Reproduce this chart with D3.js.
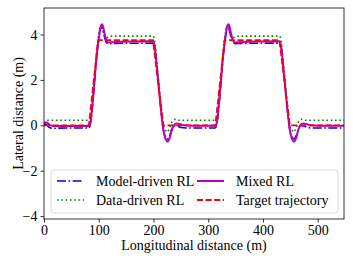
<!DOCTYPE html>
<html>
<head>
<meta charset="utf-8">
<script src="https://cdn.jsdelivr.net/npm/d3@7"></script>
<style>
  body { margin: 0; background: #fff; }
  text { font-family: "Liberation Serif", "DejaVu Serif", serif; fill: #000; }
</style>
</head>
<body>
<div class="chart"></div>
<script>
// lateral position (m) against longitudinal distance (m)
var modelDriven = [
  [0, 0.05], [5, 0.02], [10, -0.1], [16, -0.13], [40, -0.12], [82, -0.12], [85, 0.1], [88, 0.7],
  [92, 1.8], [96, 3.0], [100, 3.85], [103, 4.25], [106, 4.3], [108, 4.15], [111, 3.85], [114, 3.65],
  [118, 3.6], [130, 3.61], [199, 3.62], [202, 3.45], [206, 2.6], [210, 1.6], [214, 0.6], [218, -0.2],
  [222, -0.52], [226, -0.6], [229, -0.5], [233, -0.2], [237, -0.02], [242, -0.02], [250, -0.1],
  [260, -0.12], [313, -0.12], [316, 0.1], [319, 0.7], [323, 1.8], [327, 3.0], [331, 3.85], [334, 4.25],
  [337, 4.3], [339, 4.15], [342, 3.85], [345, 3.65], [349, 3.6], [361, 3.61], [430, 3.62], [433, 3.45],
  [437, 2.6], [441, 1.6], [445, 0.6], [449, -0.2], [453, -0.52], [457, -0.6], [460, -0.5], [464, -0.2],
  [468, -0.02], [473, -0.02], [481, -0.1], [491, -0.12], [548, -0.12]
];
var dataDriven = [
  [0, 0.1], [4, 0.2], [8, 0.22], [82, 0.22], [85, 0.35], [88, 0.9], [92, 2.0], [96, 3.2], [100, 4.0],
  [103, 4.35], [106, 4.35], [108, 4.15], [111, 3.92], [114, 3.86], [118, 3.9], [125, 3.93], [199, 3.93],
  [202, 3.75], [206, 2.8], [210, 1.8], [214, 0.8], [218, 0.0], [222, -0.22], [225, -0.3], [228, -0.2],
  [232, 0.05], [236, 0.22], [240, 0.26], [246, 0.22], [313, 0.22], [316, 0.35], [319, 0.9], [323, 2.0],
  [327, 3.2], [331, 4.0], [334, 4.35], [337, 4.35], [339, 4.15], [342, 3.92], [345, 3.86], [349, 3.9],
  [356, 3.93], [430, 3.93], [433, 3.75], [437, 2.8], [441, 1.8], [445, 0.8], [449, 0.0], [453, -0.22],
  [456, -0.3], [459, -0.2], [463, 0.05], [467, 0.22], [471, 0.26], [477, 0.22], [548, 0.22]
];
var mixed = [
  [0, 0.08], [5, 0.12], [10, 0.03], [16, -0.03], [40, -0.03], [82, -0.03], [85, 0.15], [88, 0.8],
  [92, 1.9], [96, 3.0], [100, 3.8], [103, 4.3], [106, 4.45], [108, 4.35], [111, 4.0], [114, 3.75],
  [118, 3.65], [125, 3.66], [160, 3.69], [199, 3.7], [202, 3.5], [206, 2.6], [210, 1.6], [214, 0.6],
  [218, -0.2], [222, -0.6], [226, -0.72], [229, -0.6], [233, -0.25], [237, 0.0], [242, 0.08],
  [248, 0.06], [256, 0.0], [270, -0.02], [313, -0.02], [316, 0.15], [319, 0.8], [323, 1.9], [327, 3.0],
  [331, 3.8], [334, 4.3], [337, 4.45], [339, 4.35], [342, 4.0], [345, 3.75], [349, 3.65], [356, 3.66],
  [391, 3.69], [430, 3.7], [433, 3.5], [437, 2.6], [441, 1.6], [445, 0.6], [449, -0.2], [453, -0.6],
  [457, -0.72], [460, -0.6], [464, -0.25], [468, 0.0], [473, 0.08], [479, 0.06], [487, 0.0],
  [500, -0.02], [548, -0.02]
];
var target = [
  [0, 0], [82, 0], [99, 3.75], [199, 3.75], [218, 0], [313, 0], [330, 3.75], [430, 3.75], [449, 0], [548, 0]
];

var xTicks = [0, 100, 200, 300, 400, 500];
var yTicks = [-4, -2, 0, 2, 4];

var series = [
  { name: 'Model-driven RL', data: modelDriven, color: '#0000ff', width: 1.6, dash: '9,2.5,1.6,2.5', curve: d3.curveMonotoneX },
  { name: 'Data-driven RL', data: dataDriven, color: '#008000', width: 1.6, dash: '1.6,2.7', curve: d3.curveMonotoneX },
  { name: 'Mixed RL', data: mixed, color: '#bf00bf', width: 2, dash: null, curve: d3.curveMonotoneX },
  { name: 'Target trajectory', data: target, color: '#ff0000', width: 1.8, dash: '6,2.6', curve: d3.curveLinear }
];

var width = 353, height = 263;
var margin = { top: 8, right: 9, bottom: 44, left: 44 };

var svg = d3.select('.chart')
  .append('svg')
  .attr('width', width)
  .attr('height', height);

var x = d3.scaleLinear().domain([0, 548]).range([margin.left, width - margin.right]);
var y = d3.scaleLinear().domain([-4.13, 5.17]).range([height - margin.bottom, margin.top]);

var fmt = function (d) { return d < 0 ? '\u2212' + Math.abs(d) : String(d); };

svg.append('clipPath').attr('id', 'plotclip')
  .append('rect')
  .attr('x', margin.left).attr('y', margin.top)
  .attr('width', width - margin.left - margin.right)
  .attr('height', height - margin.top - margin.bottom);

// lines
var line = d3.line().x(d => x(d[0])).y(d => y(d[1]));
svg.append('g').attr('clip-path', 'url(#plotclip)')
  .selectAll('path')
  .data(series)
  .enter().append('path')
  .attr('d', d => line.curve(d.curve)(d.data))
  .attr('fill', 'none')
  .attr('stroke', d => d.color)
  .attr('stroke-width', d => d.width)
  .attr('stroke-dasharray', d => d.dash);

// axes
var xAxis = svg.append('g')
  .attr('transform', 'translate(0,' + (height - margin.bottom) + ')')
  .call(d3.axisBottom(x).tickValues(xTicks).tickFormat(fmt).tickSize(3.5).tickPadding(2.5));
var yAxis = svg.append('g')
  .attr('transform', 'translate(' + margin.left + ',0)')
  .call(d3.axisLeft(y).tickValues(yTicks).tickFormat(fmt).tickSize(3.5).tickPadding(3));
[xAxis, yAxis].forEach(function (a) {
  a.select('.domain').remove();
  a.selectAll('text').style('font-size', '14px').style('font-family', '"Liberation Serif", serif');
  a.selectAll('line').attr('stroke', '#000').attr('stroke-width', 0.8);
});

svg.append('rect')
  .attr('x', margin.left).attr('y', margin.top)
  .attr('width', width - margin.left - margin.right)
  .attr('height', height - margin.top - margin.bottom)
  .attr('fill', 'none')
  .attr('stroke', '#000')
  .attr('stroke-width', 0.8);

// axis titles
svg.append('text')
  .attr('x', (margin.left + width - margin.right) / 2)
  .attr('y', 250)
  .attr('text-anchor', 'middle')
  .style('font-size', '14px')
  .text('Longitudinal distance (m)');

svg.append('text')
  .attr('transform', 'translate(18,' + ((margin.top + height - margin.bottom) / 2) + ') rotate(-90)')
  .attr('text-anchor', 'middle')
  .attr('dy', '0.35em')
  .style('font-size', '14px')
  .text('Lateral distance (m)');

// legend, two columns
svg.append('rect')
  .attr('x', 51).attr('y', 170)
  .attr('width', 287).attr('height', 43)
  .attr('rx', 3)
  .attr('fill', '#fff').attr('fill-opacity', 0.8)
  .attr('stroke', '#d0d0d0').attr('stroke-width', 0.8);

var legend = svg.selectAll('.legendCells')
  .data(series)
  .enter().append('g')
  .attr('class', 'legendCells')
  .attr('transform', (d, i) => 'translate(' + (i < 2 ? 57 : 197) + ',' + (i % 2 === 0 ? 181 : 200) + ')');

legend.append('line')
  .attr('x1', 0).attr('x2', 27)
  .attr('stroke', d => d.color)
  .attr('stroke-width', d => d.width)
  .attr('stroke-dasharray', d => d.dash);

legend.append('text')
  .attr('x', 39)
  .attr('dy', '0.35em')
  .style('font-size', '14px')
  .text(d => d.name);
</script>
</body>
</html>
